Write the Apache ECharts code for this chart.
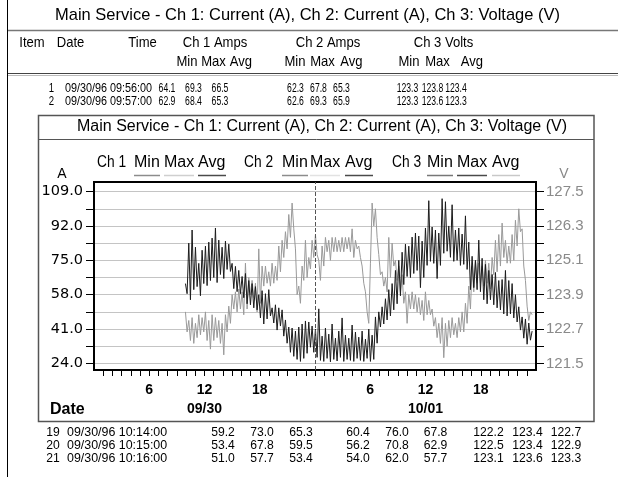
<!DOCTYPE html>
<html><head><meta charset="utf-8">
<script src="https://cdn.jsdelivr.net/npm/echarts@6/dist/echarts.min.js"></script>
<style>html,body{margin:0;padding:0;background:#fff}#c{width:618px;height:477px}</style>
</head><body><div id="c"></div>
<script>
// ---------- data ----------
const TITLE = 'Main Service - Ch 1: Current (A), Ch 2: Current (A), Ch 3: Voltage (V)';
const START_HOUR = 9.93;      // 09/30 09:56
const STEP_HOURS = 0.181;     // sample spacing (hours)

// Ch 1 Avg current (A), left axis
const ch1Avg = [
 63.5,58.5, 83.5,55.5, 90.0,60.5, 81.5,62.0, 73.5,57.5, 80.0,63.5, 82.0,62.5, 84.0,65.0, 86.0,66.5, 91.0,64.0,
 85.0,68.0, 81.5,66.0, 84.5,70.5, 83.0,69.5, 73.5,61.0, 72.0,59.5, 70.0,58.5, 67.0,56.5, 68.5,53.5, 65.0,53.0,
 63.5,51.5, 62.0,50.5, 58.0,46.5, 60.0,43.5, 58.5,46.0, 60.5,47.5, 51.5,44.0, 53.0,40.5, 51.5,42.5, 50.5,37.5,
 45.5,34.0, 42.0,29.5, 41.5,27.5, 40.0,26.0, 42.0,25.0, 43.5,26.5, 45.0,29.0, 44.5,32.0, 42.5,29.5, 41.0,27.0,
 51.0,25.5, 37.5,25.0, 41.5,26.5, 38.5,24.8, 43.5,26.0, 36.5,25.2, 40.0,27.0, 46.5,25.0, 38.0,26.0, 36.5,25.5,
 43.0,25.0, 39.5,26.5,
 37.0,25.5, 40.0,25.0, 36.0,26.5, 41.0,25.0, 38.0,26.0, 47.0,34.0, 49.5,42.0, 52.0,43.5, 56.0,45.5, 60.5,47.5,
 63.5,50.5, 70.0,53.5, 75.0,57.5, 79.0,63.0, 83.0,67.0, 82.0,66.5, 86.5,68.5, 88.5,70.0, 87.0,61.5, 84.5,66.5,
 91.0,72.5, 104.5,74.5, 91.5,73.5, 90.0,66.0, 88.5,72.5, 105.5,78.5, 104.0,79.5, 92.0,76.5, 102.5,74.5, 90.0,75.0,
 91.0,72.5, 88.0,73.0, 97.0,70.5, 84.0,60.5, 77.0,61.5, 75.0,60.5, 85.0,59.5, 76.0,55.5, 73.0,53.5, 70.0,55.5,
 68.0,53.0, 69.0,51.5, 65.0,50.5, 65.5,48.5, 70.0,47.5, 65.0,48.5, 63.5,46.5, 58.0,44.5, 52.0,40.5, 47.0,36.5,
 46.0,33.5, 44.0,35.5, 40.0
];

// Ch 3 Avg voltage (V), right axis
const ch3Avg = [
 123.3,122.6, 123.0,122.3, 123.1,122.2, 122.9,122.4, 123.2,122.5, 123.1,122.6, 123.3,122.3, 123.0,122.0, 123.2,122.3, 123.1,122.4,
 123.0,122.2, 122.9,121.8, 123.2,122.6, 123.5,122.9, 123.9,123.4, 124.0,123.3, 124.1,123.4, 124.0,123.2, 125.0,123.4, 124.5,123.9,
 124.4,123.8, 124.3,123.3, 125.5,123.6, 124.9,124.2, 124.9,124.3, 124.7,124.2, 125.0,124.3, 124.9,124.4, 125.6,124.7, 125.8,125.2,
 126.1,125.5, 126.7,125.9, 127.1,126.2, 125.5,123.9, 124.2,123.6, 124.9,124.4, 125.8,124.5, 125.2,124.8, 125.8,125.2, 126.0,125.3,
 125.1,124.4, 125.6,124.9, 125.9,125.4, 125.8,125.1, 125.9,125.4, 125.9,125.4, 125.8,125.4, 125.9,125.4, 125.9,125.5, 125.9,125.4,
 126.2,125.2, 125.8,125.5,
 125.6,125.2, 124.9,124.3, 124.0,123.3, 122.9,125.0, 127.1,126.3, 126.9,125.9, 125.3,124.6, 124.7,124.2, 124.5,124.0, 125.9,124.5,
 125.7,124.9, 125.1,124.4, 124.9,124.0, 124.6,123.6, 124.0,122.9, 123.9,123.4, 124.0,123.4, 123.9,123.3, 123.8,123.2, 123.7,123.0,
 124.0,123.2, 123.7,123.2, 123.4,122.8, 123.1,122.4, 122.9,122.2, 123.1,121.7, 122.9,122.1, 123.0,122.4, 123.1,122.5, 122.9,122.4,
 123.1,122.6, 123.3,122.6, 123.6,122.9, 124.2,123.4, 124.9,124.0, 125.1,124.3, 125.0,124.3, 124.9,124.2, 125.1,124.3, 125.0,124.1,
 125.2,124.6, 125.8,124.7, 126.0,124.9, 126.4,125.2, 125.8,125.0, 125.6,125.0, 126.0,125.1, 126.5,125.6, 126.9,126.1, 126.2,124.9,
 124.4,123.5, 123.0,123.3, 123.2
];

const leftTicks = [24, 32.5, 41, 49.5, 58, 66.5, 75, 83.5, 92, 100.5, 109];
const leftLabels = [24, 41, 58, 75, 92, 109];
const rightTicks = [121.5, 122.1, 122.7, 123.3, 123.9, 124.5, 125.1, 125.7, 126.3, 126.9, 127.5];
const rightLabels = [121.5, 122.7, 123.9, 125.1, 126.3, 127.5];
const hourTicks = [1,2,3,4,5,6,7,8,9,10,11,12,13,14,15,16,17,18,19,20,21,22,23,24,
                   25,26,27,28,29,30,31,32,33,34,35,36,37,38,39,40,41,42,43,44,45,46,47];
const hourLabels = [6, 12, 18, 30, 36, 42];
const dayLabels = {12: '09/30', 36: '10/01'};
const midnight = 24;

const legendChannels = ['Ch 1', 'Ch 2', 'Ch 3'];
const legendStats = ['Min', 'Max', 'Avg'];

const headerTop = ['Item', 'Date', 'Time', 'Ch 1 Amps', 'Ch 2 Amps', 'Ch 3 Volts'];
const headerSub = ['Min', 'Max', 'Avg', 'Min', 'Max', 'Avg', 'Min', 'Max', 'Avg'];
const topRows = [
  ['1', '09/30/96 09:56:00', '64.1', '69.3', '66.5', '62.3', '67.8', '65.3', '123.3', '123.8', '123.4'],
  ['2', '09/30/96 09:57:00', '62.9', '68.4', '65.3', '62.6', '69.3', '65.9', '123.3', '123.6', '123.3']
];
const bottomRows = [
  ['19', '09/30/96 10:14:00', '59.2', '73.0', '65.3', '60.4', '76.0', '67.8', '122.2', '123.4', '122.7'],
  ['20', '09/30/96 10:15:00', '53.4', '67.8', '59.5', '56.2', '70.8', '62.9', '122.5', '123.4', '122.9'],
  ['21', '09/30/96 10:16:00', '51.0', '57.7', '53.4', '54.0', '62.0', '57.7', '123.1', '123.6', '123.3']
];

// ---------- layout / styles ----------
const SANS = '"Liberation Sans", Arial, Helvetica, sans-serif';
const WIDE = '"DejaVu Sans", Verdana, sans-serif';
const g = [];
function txt(x, y, text, font, align, fill, sx) {
  g.push({type: 'text', x: x, y: y, scaleX: sx || 1, silent: true,
    style: {text: text, font: font, fill: fill || '#000', align: align || 'center', verticalAlign: 'middle',
            textAlign: align || 'center', textVerticalAlign: 'middle'}});
}
function line(x1, y1, x2, y2, color, w) {
  g.push({type: 'line', silent: true, shape: {x1: x1, y1: y1, x2: x2, y2: y2},
    style: {stroke: color, lineWidth: w || 1}});
}

// outer window (table)
line(7.5, 0, 7.5, 477, '#000', 1);
txt(307.5, 15, TITLE, '17px ' + SANS, 'center', '#000', 0.97);
line(8, 30.5, 618, 30.5, '#777', 1.5);
const headX = [32, 70.5, 142.5, 215, 328, 443.5];
headerTop.forEach((t, i) => txt(headX[i], 43, t, '15px ' + SANS, 'center', '#000', 0.87));
const subX = [187, 213.5, 241, 295, 322.5, 351.5, 409, 437.5, 472];
headerSub.forEach((t, i) => txt(subX[i], 62, t, '15px ' + SANS, 'center', '#000', 0.87));
line(8, 73.5, 618, 73.5, '#444', 1);
line(8, 75.5, 618, 75.5, '#bbb', 1);

const rowValX = [167, 193.5, 220, 295.5, 318.5, 341.5, 407.5, 432.5, 456];
topRows.forEach((r, k) => {
  const y = 89 + k * 13;
  txt(54, y, r[0], '12px ' + SANS, 'right', '#000', 0.8);
  txt(65, y, r[1], '12px ' + SANS, 'left', '#000', 0.9);
  for (let j = 2; j < r.length; j++) txt(rowValX[j - 2], y, r[j], '12px ' + SANS, 'center', '#000', 0.72);
});
const botValX = [223, 262, 301, 358, 397, 435.5, 488.5, 527.5, 566];
bottomRows.forEach((r, k) => {
  const y = 432 + k * 13;
  txt(53, y, r[0], '13.5px ' + SANS, 'center', '#000', 0.9);
  txt(67, y, r[1], '13.5px ' + SANS, 'left', '#000', 0.92);
  for (let j = 2; j < r.length; j++) txt(botValX[j - 2], y, r[j], '13.5px ' + SANS, 'center', '#000', 0.9);
});

// inner chart window
g.push({type: 'rect', silent: true, shape: {x: 38.5, y: 115.5, width: 555.5, height: 306},
  style: {fill: 'none', stroke: '#555', lineWidth: 1.5}});
line(38.5, 139.5, 594, 139.5, '#555', 1);
txt(322, 127, TITLE, '16px ' + SANS);

// custom legend
const chX = [97, 244, 392];
const statX = [[134, 164, 198], [282, 310, 345], [427, 457, 492]];
const statW = [26, 30, 28];
const legendColors = [['#8c8c8c', '#cfcfcf', '#4a4a4a'], ['#8c8c8c', '#e2e2e2', '#4a4a4a'], ['#777', '#4a4a4a', '#c8c8c8']];
legendChannels.forEach((c, i) => {
  txt(chX[i], 163, c, '16px ' + SANS, 'left', '#000', 0.86);
  legendStats.forEach((s, j) => {
    txt(statX[i][j], 163, s, '16px ' + SANS, 'left');
    line(statX[i][j], 175.5, statX[i][j] + statW[j], 175.5, legendColors[i][j], 1.5);
  });
});
txt(62, 174, 'A', '14px ' + SANS);
txt(564, 174, 'V', '14px ' + SANS, 'center', '#888');
txt(50, 410, 'Date', 'bold 16px ' + SANS, 'left');

// ---------- chart ----------
const blackData = ch1Avg.map((v, i) => [START_HOUR + i * STEP_HOURS, v]);
const grayData = ch3Avg.map((v, i) => [START_HOUR + i * STEP_HOURS, v]);

const chart = echarts.init(document.getElementById('c'), null, {renderer: 'canvas'});
chart.setOption({
  animation: false,
  backgroundColor: '#fff',
  grid: {left: 94, right: 82, top: 182, bottom: 107, show: true, borderColor: '#000', borderWidth: 2,
         containLabel: false, outerBoundsMode: 'none'},
  xAxis: {
    type: 'value', min: 0, max: 48,
    axisLine: {show: true, onZero: false, lineStyle: {color: '#000', width: 2}},
    axisTick: {show: true, customValues: hourTicks, length: 6, lineStyle: {color: '#000', width: 1}},
    axisLabel: {
      customValues: hourLabels, margin: 11, color: '#000', fontFamily: SANS, fontWeight: 'bold', fontSize: 14, lineHeight: 19,
      formatter: v => String(v % 24) + (dayLabels[v] ? '\n' + dayLabels[v] : '')
    },
    splitLine: {show: false}
  },
  yAxis: [
    {
      type: 'value', position: 'left', min: 20.75, max: 113.75,
      axisLine: {show: true, lineStyle: {color: '#000', width: 2}},
      axisTick: {show: true, customValues: leftTicks, length: 8, lineStyle: {color: '#000', width: 1}},
      axisLabel: {customValues: leftLabels, margin: 11, color: '#000', fontFamily: WIDE, fontSize: 14.5,
                  formatter: v => v.toFixed(1)},
      splitLine: {show: true, lineStyle: {color: '#c4c4c4', width: 1}}
    },
    {
      type: 'value', position: 'right', min: 121.2706, max: 127.8353,
      axisLine: {show: true, lineStyle: {color: '#000', width: 2}},
      axisTick: {show: true, customValues: rightTicks, length: 8, lineStyle: {color: '#000', width: 1}},
      axisLabel: {customValues: rightLabels, margin: 10, color: '#8a8a8a', fontFamily: SANS, fontSize: 15,
                  formatter: v => v.toFixed(1)},
      splitLine: {show: false}
    }
  ],
  graphic: {elements: g},
  series: [
    {
      name: 'Ch 3 Avg', type: 'line', yAxisIndex: 1, data: grayData, showSymbol: false, symbol: 'none',
      lineStyle: {color: '#9a9a9a', width: 1}, z: 3
    },
    {
      name: 'Ch 1 Avg', type: 'line', yAxisIndex: 0, data: blackData, showSymbol: false, symbol: 'none',
      lineStyle: {color: '#1c1c1c', width: 1}, z: 4,
      markLine: {silent: true, symbol: ['none', 'none'], label: {show: false}, animation: false,
                 lineStyle: {color: '#555', type: 'dashed', width: 1}, data: [{xAxis: midnight}]}
    }
  ]
});
</script></body></html>
